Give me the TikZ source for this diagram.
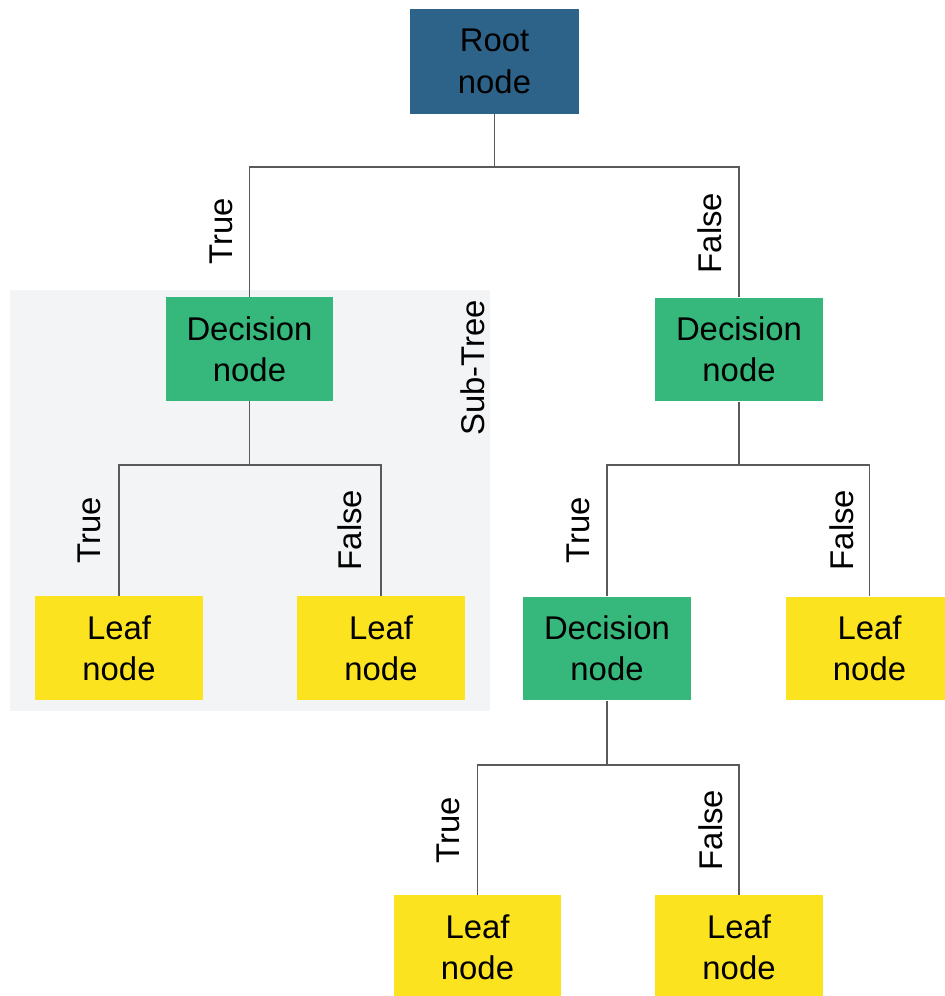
\documentclass[tikz,border=0pt]{standalone}
\usepackage{fontspec}
\setmainfont{Liberation Sans}
\definecolor{rootblue}{RGB}{46,99,137}
\definecolor{decgreen}{RGB}{54,183,123}
\definecolor{leafyellow}{RGB}{252,227,32}
\definecolor{subgray}{RGB}{243,244,246}
\definecolor{linegray}{RGB}{90,90,90}
\begin{document}
\begin{tikzpicture}[x=0.02cm,y=-0.02cm,
  box/.style={rectangle,inner sep=0pt,align=center,text=black,
    font=\fontsize{18.7}{23.5}\selectfont,minimum width=3.36cm,minimum height=2.08cm},
  rootbox/.style={box,fill=rootblue,minimum width=3.4cm,minimum height=2.1cm},
  decbox/.style={box,fill=decgreen},
  leafbox/.style={box,fill=leafyellow},
  lbl/.style={rotate=90,inner sep=0pt,font=\fontsize{18.7}{22}\selectfont},
  conn/.style={draw=linegray,line width=0.75pt}]
\useasboundingbox (0,0) rectangle (944,996);
\fill[white] (0,0) rectangle (944,996);
% sub-tree background
\fill[subgray] (10,290) rectangle (490,711);
% nodes
\node[rootbox] (root) at (494.5,61.5) {Root\\node};
\node[decbox] (decL) at (249.5,349) {Decision\\node};
\node[decbox] (decR) at (739,349.5) {Decision\\node};
\node[leafbox] (leafL1) at (119,648) {Leaf\\node};
\node[leafbox] (leafL2) at (381,648) {Leaf\\node};
\node[decbox] (decM) at (607,648.5) {Decision\\node};
\node[leafbox] (leafR) at (869.5,648.5) {Leaf\\node};
\node[leafbox] (leafB1) at (477.5,947) {Leaf\\node};
\node[leafbox] (leafB2) at (739,947) {Leaf\\node};
% junction levels
\coordinate (j0) at (494,167);
\coordinate (j1) at (249,465);
\coordinate (j2) at (739,465);
\coordinate (j3) at (608,765);
% connectors
\draw[conn] (root.south) -- (root.south |- j0);
\draw[conn] (decL.north) |- (root.south |- j0) -| (decR.north);
\draw[conn] (decL.south) -- (decL.south |- j1);
\draw[conn] (leafL1.north) |- (decL.south |- j1) -| (leafL2.north);
\draw[conn] (decR.south) -- (decR.south |- j2);
\draw[conn] (decM.north) |- (decR.south |- j2) -| (leafR.north);
\draw[conn] (decM.south) -- (decM.south |- j3);
\draw[conn] (leafB1.north) |- (decM.south |- j3) -| (leafB2.north);
% labels
\node[lbl] (t0) at (221,231) {True};
\node[lbl] (f0) at (710,233) {False};
\node[lbl] (st) at (473,368) {Sub-Tree};
\node[lbl] (t1) at (89,530) {True};
\node[lbl] (f1) at (350,530) {False};
\node[lbl] (t2) at (578,530) {True};
\node[lbl] (f2) at (842,530) {False};
\node[lbl] (t3) at (448,830) {True};
\node[lbl] (f3) at (711,830) {False};
\end{tikzpicture}
\end{document}
